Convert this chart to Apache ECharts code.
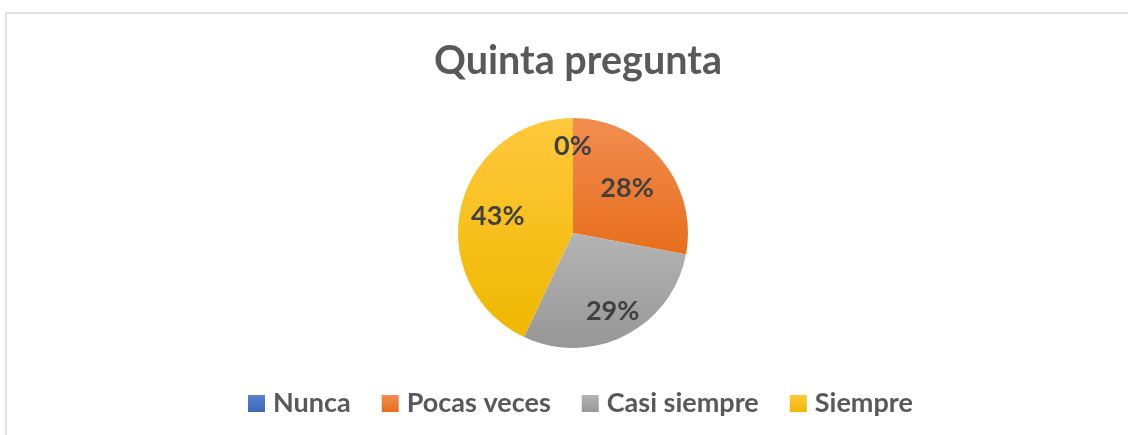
<!DOCTYPE html>
<html>
<head>
<meta charset="utf-8">
<style>
  html, body { margin: 0; padding: 0; background: #fff; }
  #chart { width: 1128px; height: 435px; }
</style>
<script src="https://cdn.jsdelivr.net/npm/echarts@6/dist/echarts.min.js"></script>
</head>
<body>
<div id="chart"></div>
<script>
// ---- data ----
const titleText = 'Quinta pregunta';
const categories = ['Nunca', 'Pocas veces', 'Casi siempre', 'Siempre'];
const percentValues = [0, 28, 29, 43];

// ---- styles ----
const FONT = 'Lato';
const sliceColors = [
  ['#5584D2', '#3B67B7'],
  ['#F28D50', '#E76E1C'],
  ['#B4B4B4', '#979797'],
  ['#FFC83C', '#F0B800']
];
const labelRadiusFactor = [0.75, 0.61, 0.76, 0.67];
const CX = 573, CY = 233, R = 115;

const chart = echarts.init(document.getElementById('chart'), null, { renderer: 'canvas' });

function grad(c) {
  return new echarts.graphic.LinearGradient(0, 0, 0, 1, [
    { offset: 0, color: c[0] },
    { offset: 1, color: c[1] }
  ]);
}

const option = {
  backgroundColor: '#ffffff',
  animation: false,
  graphic: [{
    type: 'rect',
    shape: { x: 6, y: 13, width: 1140, height: 440 },
    style: { fill: 'none', stroke: '#D9D9D9', lineWidth: 1.5 },
    silent: true, z: -1
  }],
  title: {
    text: titleText,
    left: CX,
    textAlign: 'center',
    top: 36,
    textStyle: { fontFamily: FONT, fontWeight: 'bold', fontSize: 39.5, color: '#595959' }
  },
  legend: {
    data: categories,
    bottom: 13,
    left: 243,
    icon: 'rect',
    itemWidth: 17,
    itemHeight: 17,
    itemGap: 31,
    textStyle: { fontFamily: FONT, fontWeight: 'bold', fontSize: 27, color: '#595959', padding: [0, 0, 0, 3] }
  },
  series: [{
    type: 'pie',
    center: [CX, CY],
    radius: R,
    startAngle: 90,
    clockwise: true,
    avoidLabelOverlap: false,
    minShowLabelAngle: 0,
    label: {
      show: true,
      position: 'inside',
      formatter: '{c}%',
      fontFamily: FONT,
      fontWeight: 'bold',
      fontSize: 27,
      color: '#404040'
    },
    labelLine: { show: false },
    itemStyle: { borderWidth: 0 },
    labelLayout: function (p) {
      const lx = p.labelRect.x + p.labelRect.width / 2;
      const ly = p.labelRect.y + p.labelRect.height / 2;
      let dx = lx - CX, dy = ly - CY;
      const d = Math.sqrt(dx * dx + dy * dy) || 1;
      const target = R * labelRadiusFactor[p.dataIndex];
      return { x: CX + dx / d * target, y: CY + dy / d * target };
    },
    data: categories.map((name, i) => ({
      name: name,
      value: percentValues[i],
      itemStyle: { color: grad(sliceColors[i]) }
    }))
  }]
};
chart.setOption(option);
</script>
</body>
</html>
